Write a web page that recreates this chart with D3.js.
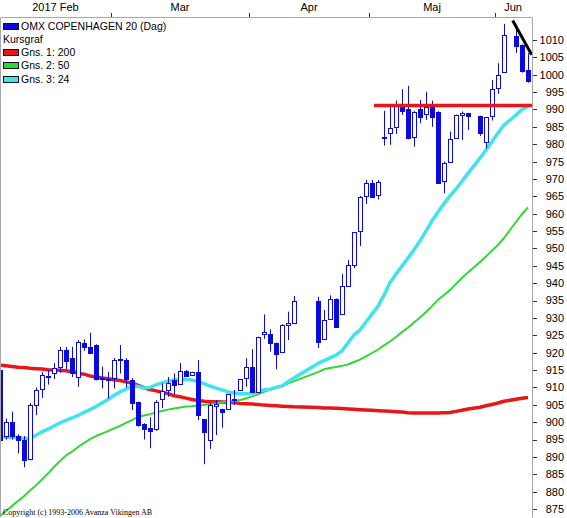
<!DOCTYPE html>
<html><head><meta charset="utf-8">
<script src="https://cdn.jsdelivr.net/npm/d3@7"></script>
<style>
body{margin:0;background:#fff}
svg{display:block}
text{font-family:"Liberation Sans",Arial,sans-serif;fill:#000}
</style>
</head><body>
<svg id="c" width="567" height="518"></svg>
<script>
// trading-day slots (2017), MM-DD
const dates = [
 "02-02","02-03","02-06","02-07","02-08","02-09","02-10","02-13","02-14","02-15","02-16","02-17","02-20","02-21","02-22","02-23","02-24","02-27","02-28",
 "03-01","03-02","03-03","03-06","03-07","03-08","03-09","03-10","03-13","03-14","03-15","03-16","03-17","03-20","03-21","03-22","03-23","03-24","03-27","03-28","03-29","03-30","03-31",
 "04-03","04-04","04-05","04-06","04-07","04-10","04-11","04-12","04-13","04-14","04-17","04-18","04-19","04-20","04-21","04-24","04-25","04-26","04-27","04-28",
 "05-01","05-02","05-03","05-04","05-05","05-08","05-09","05-10","05-11","05-15","05-16","05-17","05-18","05-19","05-22","05-23","05-24","05-26","05-29","05-30","05-31",
 "06-01","06-02","06-05","06-06","06-07","06-08"];
const monthLabels = ["2017 Feb","Mar","Apr","Maj","Jun"];

const open = [915.0,896,900,896,895,889.5,905,909.5,913,914.2,
 916,920.8,918.4,913,922.7,921.7,922.2,912.8,912.5,912.6,
 918,918,912.1,905.9,899.5,898.2,897.9,906.6,909.3,912.1,
 910.9,914.8,913.6,914.5,900.8,895,904.6,903.8,903.8,906.5,
 909.3,912.6,915.8,908.8,925.3,925.4,922.7,920.1,928,928.4,
 null,null,null,934.9,923.8,929.6,935.4,931,939.3,945.2,
 955.1,965.1,968.7,965.4,981.8,983.1,984.8,990.8,990,982,
 990,988.7,991.3,989.4,969.4,975,981.7,988.4,988.9,null,
 988.1,980.7,988.1,996.1,1000.9,null,1011.2,1008.6,1001.4];
const high = [916,901,903,896.5,896,905.5,910,914.5,915,917,
 921.7,921.6,921.7,923.6,923.8,925.7,922.4,916,914.5,918.4,
 922.2,918.4,912.7,905.9,899.7,901.4,906.3,911.2,913,914,
 917,915,914.5,917.9,900.9,905.5,906.4,903.8,908,909.3,
 912.4,918.4,921,924.6,931,926.7,922.9,928.2,931.8,936.3,
 null,null,null,936.1,932.3,936.5,935.6,942.6,946.7,954.7,
 965.1,969.7,969.7,969.7,989.6,991,992.5,995.8,996.8,989.5,
 992.7,995.1,992.5,989.5,975,983.6,988.5,989.4,989,null,
 988.2,987.8,998.5,1003.3,1014.6,null,1013.4,1008.7,1006.2];
const low = [894.5,895,895,891,887,889,902,907,910.8,912.4,
 914.2,915.3,913,910.2,920.5,919.6,912,909.7,906.8,909.7,
 914,910,903.5,898.7,895,892.5,897.5,904,907.3,908,
 910.7,913,913.3,900.6,887.9,892.3,896.3,898.4,903.8,905,
 909,910.2,908.6,908.6,924,920.3,915.2,920,923.6,928.2,
 null,null,null,921.3,923.6,929.5,927.3,930.8,939.2,944.3,
 950.7,962.8,964.6,964.1,979.6,979.8,983,988.4,981.4,979.3,
 986,987,985,968.8,965.9,974.8,981.5,981.2,984.1,null,
 982.4,978.8,986.8,994.5,1000.8,null,1006.3,1000.6,997.7];
const close = [895,900,896,895,889,905,909.3,913.6,913.2,915.5,
 920.8,917.7,914,923.2,921.7,919.8,912.3,912.5,912,918,
 918.2,912.3,905.6,899.2,897.9,897.5,905.7,909.1,911.2,910.7,
 914.8,913.4,914.3,902,897.1,905,905.1,902.8,908,906.8,
 912.3,916,908.8,924.4,925.9,922.9,919.5,928,928.4,934.9,
 null,null,null,923.2,929.4,935.4,927.5,939.2,945.2,954.6,
 964.7,968.7,964.7,969.2,982.2,984.6,991.6,989.6,981.7,989.4,
 987.7,990.8,987.7,968.9,974.5,981.4,988.4,988.9,988.2,null,
 983.1,987.7,995.8,999.9,1011.4,null,1008.3,1001.2,998.3];

// moving averages: Gns. 1: 200, Gns. 2: 50, Gns. 3: 24
const ma200 = [916.4,916.2,916.0,915.8,915.7,915.5,915.4,915.3,915.1,915.0,
 914.9,914.8,914.5,914.1,913.8,913.3,913.0,912.7,912.5,912.2,
 912.0,911.6,911.2,910.6,909.9,909.4,909.0,908.6,908.2,907.6,
 907.3,906.9,906.5,906.2,906.0,905.9,905.9,905.8,905.7,905.6,
 905.4,905.3,905.2,905.1,904.9,904.8,904.7,904.6,904.5,904.4,
 null,null,null,904.2,904.1,904.1,904.0,903.9,903.8,903.7,
 903.6,903.5,903.4,903.3,903.2,903.1,903.0,902.9,902.7,902.6,
 902.6,902.6,902.6,902.6,902.7,902.8,903.1,903.4,903.8,null,
 904.3,904.7,905.1,905.5,906.0,null,906.6,906.9,907.1];
const ma50 = [873.0,874.4,875.9,877.3,878.7,880.3,881.8,883.5,885.2,887.1,
 888.8,890.4,891.5,892.8,894.0,895.1,896.0,896.7,897.4,898.2,
 898.9,899.8,900.6,901.5,901.9,902.3,902.8,903.2,903.6,903.9,
 904.2,904.5,904.6,904.8,904.9,905.2,905.4,905.7,905.9,906.1,
 906.4,906.8,907.4,908.0,908.7,909.3,909.8,910.4,911.1,911.8,
 null,null,null,914.4,915.2,915.6,915.9,916.2,916.6,917.3,
 918.0,918.9,919.9,920.9,922.1,923.2,924.5,925.9,927.2,928.7,
 930.1,931.7,933.4,935.2,936.6,938.0,939.8,941.5,943.1,null,
 946.1,947.7,949.4,951.0,953.0,null,957.6,959.9,961.8];
const ma24 = [895.7,895.7,895.6,895.6,895.3,895.4,896.2,897.2,898.0,898.9,
 899.8,900.5,901.2,901.9,902.8,903.6,904.5,905.5,906.5,907.7,
 908.7,909.5,910.3,910.3,909.8,910.0,910.7,911.3,911.8,912.1,
 912.3,912.3,912.1,911.7,911.1,910.4,909.8,909.3,908.7,908.4,
 908.2,908.2,908.4,908.7,909.3,909.5,910.0,910.4,911.6,912.7,
 null,null,null,916.9,917.7,918.5,919.3,920.5,922.8,925.1,
 926.5,928.8,931.1,933.4,936.6,940.1,942.6,944.9,947.2,949.6,
 952.1,955.0,957.9,960.5,962.9,965.1,967.1,969.3,971.6,null,
 976.0,978.3,980.8,983.2,985.5,null,988.4,990.0,990.9];

// drawn lines: [slot, value]
const resistance = [[62.33, 991.1],[88.67, 991.1]];
const trendLine = [[85.45, 1015.6],[88.62, 1005.7]];

const yTicks = d3.range(875, 1011, 5);
const legendItems = [
  {label:"OMX COPENHAGEN 20 (Dag)", color:"#0a0ae0"},
  {label:"Kursgraf", color:null},
  {label:"Gns. 1: 200", color:"#e81616"},
  {label:"Gns. 2: 50", color:"#33d633"},
  {label:"Gns. 3: 24", color:"#3fe4ee"}
];
const copyright = "Copyright (c) 1993-2006 Avanza Vikingen AB";

const BLUE = "#0a0ae0", RED = "#e81616", GREEN = "#33d633", CYAN = "#3fe4ee";
const L = 0, R = 532, T = 17, B = 517;

const svg = d3.select("#c");
svg.append("rect").attr("width",567).attr("height",518).attr("fill","#fff");

const x = d3.scaleLinear().domain([0, dates.length-1]).range([0, 528]);
const y = d3.scaleLinear().domain([872.7, 1016.6]).range([B, T]);

svg.append("clipPath").attr("id","clip").append("rect")
  .attr("x",L+1).attr("y",T).attr("width",R-L-1).attr("height",B-T);
const plot = svg.append("g").attr("clip-path","url(#clip)");

function maLine(arr, color, w){
  const pts = arr.map((v,i)=>[i,v]).filter(p=>p[1]!=null);
  plot.append("path").datum(pts)
    .attr("fill","none").attr("stroke",color).attr("stroke-width",w)
    .attr("stroke-linejoin","round")
    .attr("d", d3.line().x(p=>x(p[0])).y(p=>y(p[1])));
}
maLine(ma200, RED, 3.5);
maLine(ma50, GREEN, 2);
maLine(ma24, CYAN, 3.5);

const candles = dates.map((d,i)=>({i,o:open[i],h:high[i],l:low[i],c:close[i]})).filter(d=>d.o!=null);
const cg = plot.append("g");
cg.selectAll("line").data(candles).join("line")
  .attr("x1",d=>x(d.i)+0.5).attr("x2",d=>x(d.i)+0.5)
  .attr("y1",d=>y(d.h)).attr("y2",d=>y(d.l))
  .attr("stroke",BLUE).attr("stroke-width",1);
cg.selectAll("rect").data(candles).join("rect")
  .attr("x",d=>x(d.i)-1.5)
  .attr("width",4)
  .attr("y",d=>Math.round(y(Math.max(d.o,d.c)))+0.5)
  .attr("height",d=>Math.max(Math.round(y(Math.min(d.o,d.c)))-Math.round(y(Math.max(d.o,d.c))),1))
  .attr("fill",d=>d.c>=d.o?"#fff":BLUE)
  .attr("stroke",BLUE).attr("stroke-width",1);

const ln = d3.line().x(p=>x(p[0])).y(p=>y(p[1]));
plot.append("path").datum(resistance).attr("d",ln).attr("stroke",RED).attr("stroke-width",3.5).attr("fill","none");
plot.append("path").datum(trendLine).attr("d",ln).attr("stroke","#000").attr("stroke-width",3).attr("fill","none");

// frame
svg.append("path").attr("d",`M${L+0.5},${B+0.5}V${T+0.5}H${R+0.5}V${B+0.5}`)
  .attr("fill","none").attr("stroke","#a8a8a8").attr("stroke-width",1);

// right axis
const ya = svg.append("g");
ya.selectAll("line").data(yTicks).join("line")
  .attr("x1",R+1).attr("x2",R+5)
  .attr("y1",d=>Math.round(y(d))+0.5).attr("y2",d=>Math.round(y(d))+0.5)
  .attr("stroke","#333");
ya.selectAll("text").data(yTicks).join("text")
  .attr("x",564).attr("y",d=>y(d)).attr("dy","0.36em")
  .attr("text-anchor","end").attr("font-size","11px").text(d=>d);

// top month axis
const months = [];
dates.forEach((d,i)=>{
  const m = d.slice(0,2);
  if(!months.length || months[months.length-1].m!==m) months.push({m, first:i, last:i});
  else months[months.length-1].last = i;
});
months.forEach((mo,k)=>{
  const start = Math.max(x(mo.first)-3, L);
  const end = Math.min(x(mo.last)+3, R);
  if(mo.first>0){
    svg.append("line").attr("x1",Math.round(x(mo.first)-3)+0.5).attr("x2",Math.round(x(mo.first)-3)+0.5)
      .attr("y1",13).attr("y2",T).attr("stroke","#333");
  }
  svg.append("text").attr("x",(start+end)/2).attr("y",11)
    .attr("text-anchor","middle").attr("font-size","11px").text(monthLabels[k]);
});

// legend
const lg = svg.append("g");
legendItems.forEach((it,k)=>{
  const base = 29.5 + k*13.3;
  if(it.color){
    lg.append("rect").attr("x",3.5).attr("y",Math.round(base-7)+0.5).attr("width",15).attr("height",6)
      .attr("fill",it.color).attr("stroke","#111");
    lg.append("text").attr("x",21).attr("y",base).attr("font-size","10.5px").text(it.label);
  } else {
    lg.append("text").attr("x",3).attr("y",base).attr("font-size","10.5px").text(it.label);
  }
});

svg.append("text").attr("x",3).attr("y",515)
  .style("font-family",'"Liberation Serif","Times New Roman",serif')
  .attr("font-size","8px").text(copyright);
</script>
</body></html>
